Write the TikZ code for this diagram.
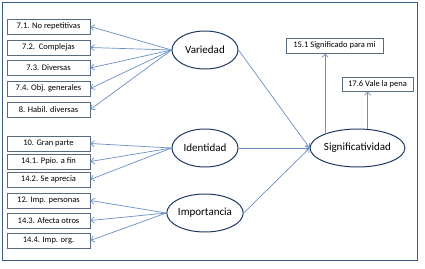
\documentclass[tikz,border=0pt]{standalone}
\usepackage{fontspec}
\setmainfont{Carlito}
\usetikzlibrary{shapes.geometric,arrows.meta}
\definecolor{framec}{HTML}{385D8A}
\definecolor{arrc}{HTML}{6A8FC4}
\definecolor{ellc}{HTML}{1F3A60}
\definecolor{boxc}{HTML}{5A6A80}
\tikzset{
  obs/.style={draw=boxc, line width=0.6pt, rectangle, minimum width=83pt, minimum height=15pt, inner sep=0pt, font=\fontsize{8.5}{10}\selectfont},
  lat/.style={draw=ellc, line width=1pt, ellipse, minimum width=66pt, minimum height=38pt, inner sep=0pt, font=\fontsize{11}{13}\selectfont},
  arr/.style={draw=arrc, line width=0.7pt, -{Straight Barb[length=3.5pt,width=6pt]}}
}
\begin{document}
\begin{tikzpicture}[x=1pt,y=-1pt]
\useasboundingbox (0,0) rectangle (425,268);
\draw[framec, line width=1.3pt] (2.5,2.5) rectangle (417.5,260.5);
% observed boxes
\node[obs] (b71) at (48.5,26.5) {7.1. No repetitivas};
\node[obs] (b72) at (48.5,47.5) {7.2.\ \ Complejas};
\node[obs] (b73) at (48.5,68) {7.3. Diversas};
\node[obs] (b74) at (48.5,88.5) {7.4. Obj. generales};
\node[obs] (b8) at (48.5,109.5) {8. Habil. diversas};
\node[obs] (b10) at (48.5,143.5) {10. Gran parte};
\node[obs] (b141) at (48.5,161.5) {14.1. Ppio. a fin};
\node[obs] (b142) at (48.5,179.5) {14.2. Se aprecia};
\node[obs] (b12) at (48.5,200.5) {12. Imp. personas};
\node[obs] (b143) at (48.5,220.5) {14.3. Afecta otros};
\node[obs] (b144) at (48.5,240.5) {14.4. Imp. org.};
% latent
\node[lat] (var) at (205,50) {Variedad};
\node[lat] (ide) at (205,148) {Identidad};
\node[lat, minimum width=68pt] (imp) at (205,213) {Importancia};
\node[lat, minimum width=91pt] (sig) at (357.5,148) {Significatividad};
% right boxes
\node[obs, minimum width=97pt] (b151) at (334.5,45.5) {15.1 Significado para mi};
\node[obs, minimum width=71pt, minimum height=14pt] (b176) at (377.5,84) {17.6 Vale la pena};
% arrows
\foreach \b in {b71,b72,b73,b74,b8} \draw[arr] (var.west) -- (\b.east);
\foreach \b in {b10,b141,b142} \draw[arr] (ide.west) -- (\b.east);
\foreach \b in {b12,b143,b144} \draw[arr] (imp.west) -- (\b.east);
\draw[arr] (var.east) -- (sig.west);
\draw[arr] (ide.east) -- (sig.west);
\draw[arr] (imp.east) -- (sig.west);
\draw[arr] (sig.156) -- (sig.156 |- b151.south);
\draw[arr] (sig.62) -- (sig.62 |- b176.south);
\end{tikzpicture}
\end{document}
